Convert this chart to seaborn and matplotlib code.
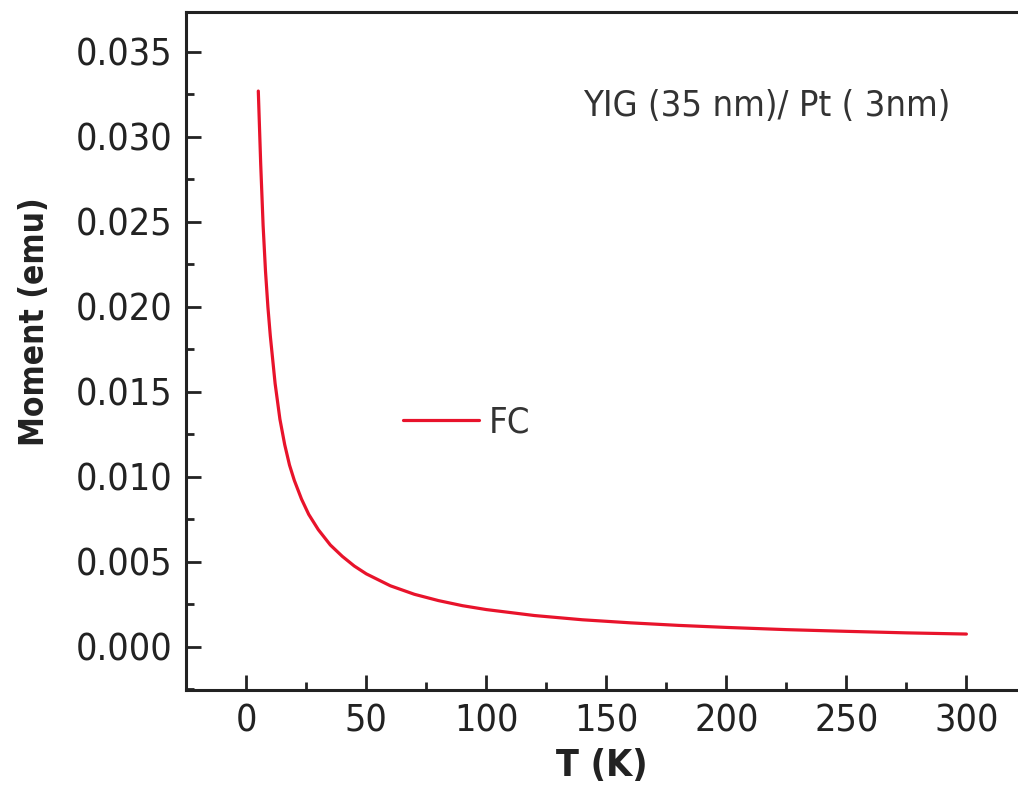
import matplotlib
matplotlib.use('Agg')
import matplotlib.pyplot as plt
from matplotlib import font_manager
from matplotlib.ticker import MultipleLocator, FormatStrFormatter
import seaborn as sns
import pandas as pd

# temperature (K) and moment (emu)
temp_k = [5, 6, 7, 8, 9, 10, 12, 14, 16, 18, 20, 23, 26, 30, 35, 40, 45, 50,
          60, 70, 80, 90, 100, 120, 140, 160, 180, 200, 225, 250, 275, 300]
moment_emu = [0.0327, 0.0284, 0.0248, 0.0221, 0.0200, 0.0183, 0.0155, 0.0134,
              0.0119, 0.0107, 0.0098, 0.0087, 0.0078, 0.0069, 0.0060, 0.00533,
              0.00476, 0.00430, 0.00360, 0.00310, 0.00273, 0.00243, 0.00220,
              0.00185, 0.00160, 0.00142, 0.00127, 0.00115, 0.00102, 0.00092,
              0.00083, 0.00076]
series_name = 'FC'
sample_label = 'YIG (35 nm)/ Pt ( 3nm)'

sns.set_theme(style='white')

# look for a narrow face; the original uses a condensed grotesque
fonts = font_manager.fontManager.ttflist
narrow = [f for f in fonts if f.name == 'Liberation Sans Narrow']
cond = [f for f in fonts if f.name == 'DejaVu Sans' and f.stretch in ('condensed', 'semi-condensed')]
if narrow:
    plt.rcParams['font.family'] = ['Liberation Sans Narrow', 'DejaVu Sans']
    fs = 29
elif cond:
    plt.rcParams['font.family'] = ['DejaVu Sans']
    plt.rcParams['font.stretch'] = 'condensed'
    fs = 27
else:
    plt.rcParams['font.family'] = ['Liberation Sans', 'DejaVu Sans']
    fs = 26

df = pd.DataFrame({'T': temp_k, 'M': moment_emu, 'curve': series_name})

fig = plt.figure(figsize=(10.18, 8.01), dpi=100)
ax = fig.add_axes([0.183, 0.1386, 0.817, 0.8464])

sns.lineplot(data=df, x='T', y='M', hue='curve', palette=['#e8132b'],
             linewidth=2.3, ax=ax, sort=True)

ax.set_xlim(-25, 321.5)
ax.set_ylim(-0.00253, 0.03735)

ax.xaxis.set_major_locator(MultipleLocator(50))
ax.xaxis.set_minor_locator(MultipleLocator(25))
ax.yaxis.set_major_locator(MultipleLocator(0.005))
ax.yaxis.set_minor_locator(MultipleLocator(0.0025))
ax.yaxis.set_major_formatter(FormatStrFormatter('%.3f'))

ax.tick_params(which='both', direction='in', colors='#222222', width=2,
               labelsize=fs, labelcolor='#222222', top=False, right=False)
ax.tick_params(which='major', length=11, pad=10)
ax.tick_params(which='minor', length=6)
ax.tick_params(axis='x', which='both', bottom=True)
ax.tick_params(axis='y', which='both', left=True)

for side in ['left', 'bottom', 'top']:
    ax.spines[side].set_linewidth(2.2)
    ax.spines[side].set_color('#222222')
ax.spines['right'].set_visible(False)

ax.set_xlabel('T (K)', fontsize=fs, fontweight='bold', color='#222222', labelpad=6)
ax.set_ylabel('Moment (emu)', fontsize=fs - 3, fontweight='bold', color='#222222')
ax.yaxis.set_label_coords(-0.163, 0.543)

ax.text(0.698, 0.862, sample_label, transform=ax.transAxes, fontsize=fs - 1,
        color='#333333', ha='center', va='center')

leg = ax.legend(loc='center left', bbox_to_anchor=(0.222, 0.394), frameon=False,
                fontsize=fs - 1, handlelength=2.1, handletextpad=0.25)
for t in leg.get_texts():
    t.set_color('#333333')

fig.savefig('out.png', dpi=100)
